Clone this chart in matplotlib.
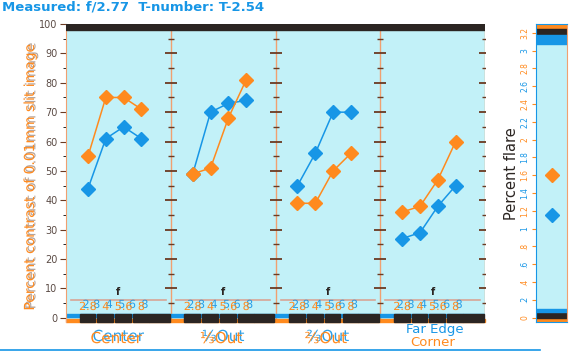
import numpy as np
import matplotlib.pyplot as plt
import matplotlib.patheffects as pe
from matplotlib.lines import Line2D

f_stops = ['2.8', '4', '5.6', '8']
positions = ['Center', '\u2153Out', '\u2154Out', 'Corner']
far_edge = 'Far Edge'
orange_vals = [[55, 75, 75, 71], [49, 51, 68, 81], [39, 39, 50, 56], [36, 38, 47, 60]]
blue_vals = [[44, 61, 65, 61], [49, 70, 73, 74], [45, 56, 70, 70], [27, 29, 38, 45]]
flare_orange = 1.6
flare_blue = 1.15
flare_ticks = [0, .2, .4, .6, .8, 1.0, 1.2, 1.4, 1.6, 1.8, 2.0, 2.2, 2.4, 2.6, 2.8, 3.0, 3.2]

ORANGE = '#ff8a1e'
BLUE = '#1796e6'
BG = '#c2f1f8'
DARK = '#2b2522'


def blue_shadow(dx=1.2, dy=1.0):
    return [pe.withSimplePatchShadow(offset=(dx, dy), shadow_rgbFace=BLUE, alpha=0.9)]


fig = plt.figure(figsize=(5.72, 3.62), dpi=100)
ax = fig.add_axes([66/572, 40/362, 419/572, 298/362])
ax.set_facecolor(BG)
ax.set_xlim(0, 4)
ax.set_ylim(-1.4, 100)

stop_x = np.array([0.21, 0.38, 0.55, 0.72])
for i in range(4):
    xs = i + stop_x
    ax.plot(xs, blue_vals[i], color=BLUE, lw=1.1, marker='D', ms=7, mec=BLUE, zorder=4)
    ax.plot(xs, orange_vals[i], color=ORANGE, lw=1.1, marker='D', ms=7, mec=ORANGE, zorder=4)
    # f-stop scale at the bottom of each panel
    ax.plot([i + 0.05, i + 0.95], [6, 6], color='#d8a595', lw=1.2, zorder=2)
    ax.text(i + 0.5, 7, 'f', ha='center', va='bottom', fontsize=7, color=DARK, fontweight='bold')
    for x, lab in zip(xs, f_stops):
        ax.text(x, 2.0, lab, ha='center', va='bottom', fontsize=8, color=ORANGE,
                path_effects=blue_shadow(2.5, 1.5))
    # segmented bar
    for x in xs:
        ax.add_patch(plt.Rectangle((x - 0.08, -1.4), 0.15, 2.6, color=DARK, zorder=3, clip_on=False))
    ax.add_patch(plt.Rectangle((i + 0.79, -1.4), 0.2, 2.6, color=DARK, zorder=3, clip_on=False))
    ax.add_patch(plt.Rectangle((i, -1.4), 1, 0.9, color=ORANGE, zorder=2, clip_on=False))
    if i < 3:
        ax.text(i + 0.48, -4.5, positions[i], ha='center', va='top', fontsize=11,
                color=ORANGE, clip_on=False, path_effects=blue_shadow(1.5, 1.5))

# last panel: blue "Far Edge" over orange "Corner"
ax.text(3.52, -1.6, far_edge, ha='center', va='top', fontsize=9.5,
        color=BLUE, clip_on=False)
ax.text(3.50, -6.3, positions[3], ha='center', va='top', fontsize=9.5,
        color=ORANGE, clip_on=False)

# top and bottom bars
ax.axhspan(98, 100, color=DARK, zorder=3)
ax.axhspan(0.3, 1.3, color=BLUE, zorder=2)

# panel dividers with tick crosses
for d in [1, 2, 3, 4]:
    ax.axvline(d, color='#f0a070', lw=1.0, zorder=1)
    ax.plot([d] * 9, np.arange(10, 100, 10), ls='none', marker='_', ms=8, mew=1.3, color='#6b3a22', zorder=2)
    ax.plot([d] * 10, np.arange(5, 100, 10), ls='none', marker='_', ms=4, mew=1, color='#6b3a22', zorder=2)

ax.set_xticks([])
ax.set_yticks(range(0, 101, 10))
ax.set_yticks(range(5, 100, 10), minor=True)
ax.tick_params(axis='y', labelsize=7, labelcolor='#5a4a44', color='#6b3a22', length=4, pad=2)
ax.tick_params(axis='y', which='minor', length=2)
for s in ax.spines.values():
    s.set_visible(False)
ax.spines['left'].set_visible(True)
ax.spines['left'].set_color('#f0a070')

fig.text(30/572, 0.51, 'Percent contrast of 0.01mm slit image', rotation=90, ha='center',
         va='center', fontsize=10, color=ORANGE,
         path_effects=[pe.withSimplePatchShadow(offset=(1, 1), shadow_rgbFace='#6a4a3a', alpha=0.5)])

# flare panel
ax2 = fig.add_axes([536/572, 40/362, 31/572, 298/362])
ax2.set_facecolor(BG)
ax2.set_xlim(0, 1)
ax2.set_ylim(-0.05, 3.3)
ax2.axhspan(3.22, 3.3, color=ORANGE)
ax2.axhspan(3.18, 3.24, color=DARK)
ax2.axhspan(3.08, 3.18, color=BLUE)
ax2.axhspan(-0.05, 0.0, color=ORANGE)
ax2.axhspan(0.0, 0.06, color=DARK)
ax2.axhspan(0.06, 0.1, color=BLUE)
ax2.plot([0.5], [flare_orange], marker='D', ms=7, color=ORANGE, ls='none')
ax2.plot([0.5], [flare_blue], marker='D', ms=7, color=BLUE, ls='none')
ax2.set_xticks([])
ax2.set_yticks(flare_ticks)
ax2.set_yticklabels([('%g' % t).lstrip('0') if 0 < t < 1 else '%g' % t for t in flare_ticks])
ax2.tick_params(axis='y', labelsize=5.5, labelcolor=BLUE, color=ORANGE, length=3, pad=2)
for j, lab in enumerate(ax2.get_yticklabels()):
    lab.set_rotation(90)
    lab.set_va('center')
    if j % 2 == 0:
        lab.set_color(ORANGE)
for s in ax2.spines.values():
    s.set_color(BLUE)
ax2.spines['right'].set_color('#f0a070')
fig.text(511/572, 0.52, 'Percent flare', rotation=90, ha='center', va='center',
         fontsize=10.5, color=DARK)

fig.text(2/572, 1.0, 'Measured: f/2.77  T-number: T-2.54', ha='left', va='top',
         fontsize=9.5, fontweight='bold', color=BLUE)
fig.add_artist(Line2D([0, 540/572], [12/362, 12/362], color=BLUE, lw=1.2))

fig.savefig('out.png', dpi=100, facecolor='white')
